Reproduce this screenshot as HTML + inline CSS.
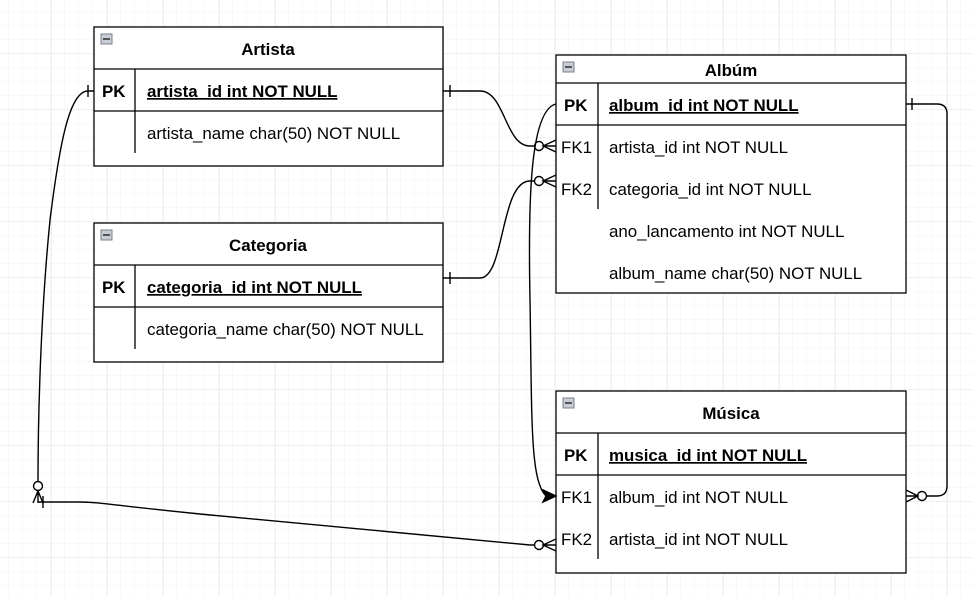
<!DOCTYPE html>
<html><head><meta charset="utf-8"><style>
body{margin:0;width:973px;height:596px;overflow:hidden;background:#fff;font-family:"Liberation Sans",Arial,sans-serif;}
</style></head><body>
<svg width="973" height="596" xmlns="http://www.w3.org/2000/svg" font-family="Liberation Sans, Arial, sans-serif">
<defs>
<pattern id="g" x="-5" y="-2" width="14" height="14" patternUnits="userSpaceOnUse"><path d="M14 0V14M0 14H14" stroke="#f0f0f0" fill="none"/></pattern>
<pattern id="G" x="-4" y="-2" width="56" height="56" patternUnits="userSpaceOnUse"><path d="M56 0V56M0 56H56" stroke="#e2e2e2" fill="none"/></pattern>
</defs>
<rect width="973" height="596" fill="url(#g)"/>
<rect width="973" height="596" fill="url(#G)"/>
<g stroke="#000" stroke-width="1.3" fill="#fff">
<rect x="94" y="27" width="349" height="139"/>
<line x1="94" y1="69" x2="443" y2="69"/><line x1="94" y1="111" x2="443" y2="111"/>
<line x1="135" y1="69" x2="135" y2="153"/>
<rect x="94" y="223" width="349" height="139"/>
<line x1="94" y1="265" x2="443" y2="265"/><line x1="94" y1="307" x2="443" y2="307"/>
<line x1="135" y1="265" x2="135" y2="349"/>
<rect x="556" y="55" width="350" height="238"/>
<line x1="556" y1="83" x2="906" y2="83"/><line x1="556" y1="125" x2="906" y2="125"/>
<line x1="598" y1="83" x2="598" y2="209"/>
<rect x="556" y="391" width="350" height="182"/>
<line x1="556" y1="433" x2="906" y2="433"/><line x1="556" y1="475" x2="906" y2="475"/>
<line x1="598" y1="433" x2="598" y2="559"/>
</g>
<g fill="#c8ccd4" stroke="#7a7f8a" stroke-width="1">
<rect x="101" y="34" width="11" height="10"/><rect x="101" y="230" width="11" height="10"/>
<rect x="563" y="62" width="11" height="10"/><rect x="563" y="398" width="11" height="10"/>
</g>
<g stroke="#222" stroke-width="1.4"><line x1="103" y1="39" x2="110" y2="39"/><line x1="103" y1="235" x2="110" y2="235"/><line x1="565" y1="67" x2="572" y2="67"/><line x1="565" y1="403" x2="572" y2="403"/></g>
<g font-size="16.9" fill="#000">
<text x="268" y="55" text-anchor="middle" font-weight="bold">Artista</text>
<text x="102" y="97" font-weight="bold">PK</text>
<text x="147" y="97" font-weight="bold" text-decoration="underline">artista_id int NOT NULL</text>
<text x="147" y="139">artista_name char(50) NOT NULL</text>
<text x="268" y="251" text-anchor="middle" font-weight="bold">Categoria</text>
<text x="102" y="293" font-weight="bold">PK</text>
<text x="147" y="293" font-weight="bold" text-decoration="underline">categoria_id int NOT NULL</text>
<text x="147" y="335">categoria_name char(50) NOT NULL</text>
<text x="731" y="76" text-anchor="middle" font-weight="bold">Albúm</text>
<text x="564" y="111" font-weight="bold">PK</text>
<text x="609" y="111" font-weight="bold" text-decoration="underline">album_id int NOT NULL</text>
<text x="561" y="153">FK1</text><text x="609" y="153">artista_id int NOT NULL</text>
<text x="561" y="195">FK2</text><text x="609" y="195">categoria_id int NOT NULL</text>
<text x="609" y="237">ano_lancamento int NOT NULL</text>
<text x="609" y="279">album_name char(50)  NOT NULL</text>
<text x="731" y="419" text-anchor="middle" font-weight="bold">Música</text>
<text x="564" y="461" font-weight="bold">PK</text>
<text x="609" y="461" font-weight="bold" text-decoration="underline">musica_id int NOT NULL</text>
<text x="561" y="503">FK1</text><text x="609" y="503">album_id int NOT NULL</text>
<text x="561" y="545">FK2</text><text x="609" y="545">artista_id int NOT NULL</text>
</g>
<g stroke="#000" stroke-width="1.4" fill="none">
<path d="M443 91 H480 C505 91 505 146 530 146 H535"/>
<line x1="450" y1="85" x2="450" y2="97"/>
<circle cx="539" cy="146" r="4.5" fill="#fff"/>
<path d="M556 140 L543 146 L556 152 M543 146 H556"/>
<path d="M443 278 H480 C505 278 500 181 530 181 H535"/>
<line x1="450" y1="272" x2="450" y2="284"/>
<circle cx="539" cy="181" r="4.5" fill="#fff"/>
<path d="M556 175 L543 181 L556 187 M543 181 H556"/>
<path d="M556 104 C530 110 528 200 530 300 C532 420 530 480 546 496"/>
<path d="M556 496 L543 490 L546 496 L543 502 Z" fill="#000"/>
<path d="M906 104 H937 Q947 104 947 114 V486 Q947 496 937 496 H926"/>
<line x1="912" y1="98" x2="912" y2="110"/>
<circle cx="922" cy="496" r="4.5" fill="#fff"/>
<path d="M906 490 L918 496 L906 502 M906 496 H918"/>
<path d="M94 91 H88 C70 91 60 140 50 220 C42 300 38 400 38 482"/>
<line x1="88" y1="85" x2="88" y2="97"/>
<circle cx="38" cy="486" r="4.5" fill="#fff"/>
<path d="M33 503 L38 491 L43 503 M38 491 V503"/>
<path d="M38 502 H80 C100 502 110 505 200 514 L530 545 H535"/>
<line x1="43" y1="496" x2="43" y2="508"/>
<circle cx="539" cy="545" r="4.5" fill="#fff"/>
<path d="M556 539 L543 545 L556 551 M543 545 H556"/>
</g>
</svg>
</body></html>
